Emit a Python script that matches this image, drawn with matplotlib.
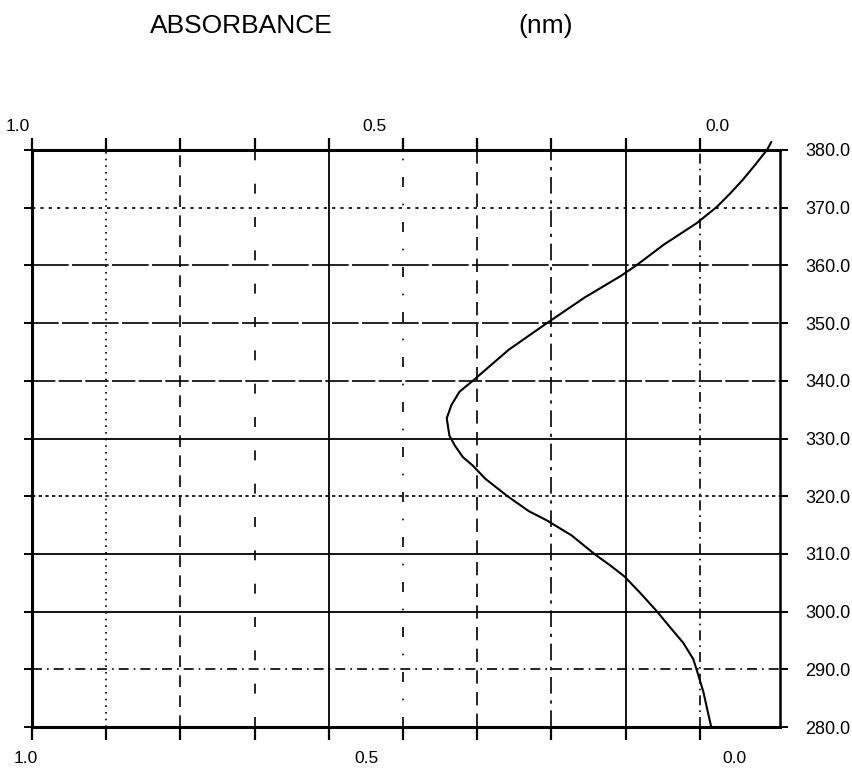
import matplotlib.pyplot as plt
import numpy as np

plt.rcParams['font.family'] = ['Liberation Sans', 'DejaVu Sans']

# Спектр поглощения: длина волны (нм) и поглощение
wavelength = [280, 286.2, 290.0, 291.8, 294.6, 297.2, 300.0, 303.2, 306.1, 307.9,
              310.0, 313.2, 315.8, 317.4, 320.0, 323.0, 325.3, 326.8, 328.8,
              330.5, 333.5, 335.8, 338.1, 340.0, 345.4, 350.0, 354.4, 358.2,
              360.1, 363.6, 367.3, 370.1, 372.3, 374.8, 377.6, 380.1, 381.4]
absorbance = [-0.017, -0.005, 0.005, 0.010, 0.025, 0.044, 0.064, 0.089, 0.113,
              0.133, 0.158, 0.192, 0.229, 0.256, 0.288, 0.321, 0.340, 0.355,
              0.367, 0.375, 0.379, 0.372, 0.360, 0.340, 0.286, 0.229, 0.173,
              0.118, 0.094, 0.054, 0.005, -0.025, -0.044, -0.064, -0.084,
              -0.101, -0.107]

abs_labels = ['1.0', '0.5', '0.0']
nm_ticks = [280, 290, 300, 310, 320, 330, 340, 350, 360, 370, 380]

# Сетка по оси поглощения: 9 делений от 1.0 до 0.0
grid_abs = [1 - k / 9 for k in range(10)]
vgrid_dashes = [None, (1, 3), (7, 5), (6, 14), None, (6, 10, 1, 10),
                (8, 5), (10, 4, 2, 4), None, (6, 3, 1, 3)]
hgrid_dashes = {290: (6, 3, 1, 3), 300: None, 310: None, 320: (2, 2),
                330: None, 340: (14, 2), 350: (16, 2), 360: (22, 2),
                370: (2, 3)}

fig = plt.figure(figsize=(8.52, 7.68), dpi=100)
ax = fig.add_axes([32 / 852, 1 - 727 / 768, 748 / 852, 577 / 768])

ax.set_xlim(1.0, -0.12)
ax.set_ylim(280, 380)

# Вертикальные линии сетки
for x, d in zip(grid_abs[1:], vgrid_dashes[1:]):
    if d is None:
        ax.axvline(x, color='black', lw=1.3)
    else:
        ax.axvline(x, color='black', lw=1.2, dashes=d)

# Горизонтальные линии сетки
for y, d in hgrid_dashes.items():
    if d is None:
        ax.axhline(y, color='black', lw=1.3)
    else:
        ax.axhline(y, color='black', lw=1.2, dashes=d)

# Кривая
ax.plot(absorbance, wavelength, color='black', lw=1.5, clip_on=False,
        solid_joinstyle='round', solid_capstyle='round')

for side in ['top', 'left', 'bottom']:
    ax.spines[side].set_linewidth(2.2)
ax.spines['right'].set_linewidth(1.8)

ax.set_xticks(grid_abs)
ax.set_xticklabels([])
ax.tick_params(axis='x', top=True, bottom=True, direction='out', length=9,
               width=1.6, labelbottom=False, labeltop=False)

ax.set_yticks(nm_ticks)
ax.set_yticklabels([f'{v:.1f}' for v in nm_ticks])
ax.tick_params(axis='y', left=True, right=True, labelleft=False, labelright=True,
               direction='out', length=6, width=1.4, pad=12, labelsize=13)
for lbl in ax.get_yticklabels():
    lbl.set_horizontalalignment('left')

# Подписи оси поглощения сверху и снизу
top_pos = [1.021, 0.487, -0.027]
bottom_pos = [1.010, 0.499, -0.052]
for lab, xt, xb in zip(abs_labels, top_pos, bottom_pos):
    ax.text(xt, 1.040, lab, transform=ax.get_xaxis_transform(), ha='center',
            va='center', fontsize=12.5)
    ax.text(xb, -0.054, lab, transform=ax.get_xaxis_transform(), ha='center',
            va='center', fontsize=12.5)

fig.text(241 / 852, 1 - 26 / 768, 'ABSORBANCE', ha='center', va='center',
         fontsize=19)
fig.text(546 / 852, 1 - 26 / 768, '(nm)', ha='center', va='center', fontsize=19)

plt.savefig('out.png', dpi=100)
